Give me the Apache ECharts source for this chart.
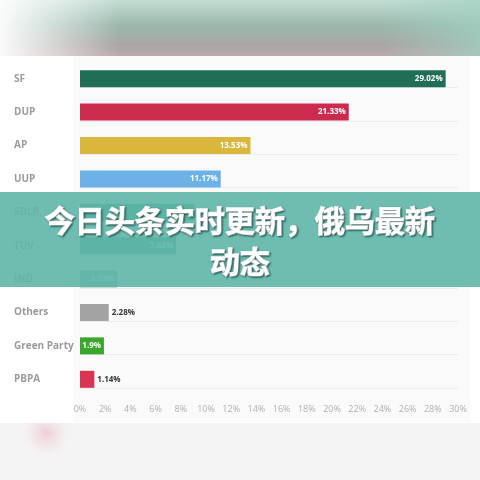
<!DOCTYPE html>
<html>
<head>
<meta charset="utf-8">
<script src="https://cdn.jsdelivr.net/npm/echarts@6/dist/echarts.min.js"></script>
<style>
html,body{margin:0;padding:0;background:#fff;}
#c{width:480px;height:480px;}
</style>
</head>
<body>
<div id="c"></div>
<script>
var categories = ['SF','DUP','AP','UUP','SDLP','TUV','IND','Others','Green Party','PBPA'];
var values = [29.02, 21.33, 13.53, 11.17, 9.08, 7.63, 2.95, 2.28, 1.9, 1.14];
var barColors = ['#1f6e55','#cc2b50','#d8b73c','#6db2e6','#2f9a6e','#3f9f97','#8cb9b3','#a3a3a3','#3aa62b','#d83553'];
var outsideLabel = ['Others','PBPA'];
var xTicks = [0, 30, 2];
var bannerLines = ['今日头条实时更新，俄乌最新', '动态'];

var chart = echarts.init(document.getElementById('c'), null, {renderer:'canvas'});

var data = values.map(function(v, i){
  var outside = outsideLabel.indexOf(categories[i]) >= 0;
  return {
    value: v,
    itemStyle: {color: barColors[i]},
    label: outside ? {position:'right', color:'#333', distance:3} : {position:'insideRight', color:'#fff', distance:3}
  };
});

var bannerText = function(t, y){
  return {type:'text', z:201, silent:true, x:240, y:y,
    style:{text: t, align:'center', verticalAlign:'middle', fill:'#ffffff',
      stroke:'#ffffff', lineWidth:1.3,
      font:'bold 30px "Noto Sans CJK SC"', textShadowColor:'rgba(0,40,40,0.6)', textShadowBlur:2, textShadowOffsetX:1, textShadowOffsetY:1}};
};

chart.setOption({
  backgroundColor: '#ffffff',
  animation: false,
  grid: [
    {left: 80, right: 22, top: 62, height: 334, containLabel: false},
    {left: 80, right: 22, top: 54, height: 334, containLabel: false}
  ],
  xAxis: [
    {
      gridIndex: 0, type: 'value', min: xTicks[0], max: xTicks[1], interval: xTicks[2],
      axisLine: {show:false}, axisTick: {show:false}, splitLine: {show:false},
      axisLabel: {formatter: '{value}%', color: '#b0b0b0', fontSize: 9, fontFamily: 'Open Sans', margin: 9}
    },
    {
      gridIndex: 1, type: 'value', min: 0, max: 30, show: false
    }
  ],
  yAxis: [
    {
      gridIndex: 0, type: 'category', data: categories, inverse: true,
      axisLine: {show:false}, axisTick: {show:false}, splitLine: {show:false},
      axisLabel: {align: 'left', margin: 66, color: '#9a9a9a', fontSize: 10, fontWeight: 'bold', fontFamily: 'Open Sans'}
    },
    {
      gridIndex: 1, type: 'category', data: categories, inverse: true,
      axisLine: {show:false}, axisTick: {show:false}, axisLabel: {show:false},
      splitLine: {show: true, lineStyle: {color: '#ececec', width: 1}}
    }
  ],
  series: [{
    type: 'bar', xAxisIndex: 0, yAxisIndex: 0,
    data: data, barWidth: 17, z: 3,
    label: {show: true, formatter: '{c}%', fontSize: 8, fontWeight: 'bold', fontFamily: 'Open Sans'}
  }],
  graphic: [
    {type:'rect', z:-10, silent:true, shape:{x:73,y:56,width:397,height:366}, style:{fill:'#fafafa'}},
    {type:'rect', z:100, silent:true, shape:{x:0,y:0,width:480,height:56},
      style:{fill: new echarts.graphic.LinearGradient(0,0,0,1,[
        {offset:0,color:'#c4ddd4'},{offset:0.45,color:'#9cb8ad'},{offset:0.8,color:'#a9a6a4'},{offset:1,color:'#bba9ab'}])}},
    {type:'rect', z:101, silent:true, shape:{x:0,y:0,width:120,height:56},
      style:{fill: new echarts.graphic.LinearGradient(0,0,1,0,[
        {offset:0,color:'rgba(255,255,255,0.95)'},{offset:1,color:'rgba(255,255,255,0)'}])}},
    {type:'rect', z:101, silent:true, shape:{x:380,y:0,width:100,height:56},
      style:{fill: new echarts.graphic.LinearGradient(0,0,1,0,[
        {offset:0,color:'rgba(160,210,195,0)'},{offset:1,color:'rgba(160,210,195,0.7)'}])}},
    {type:'rect', z:100, silent:true, shape:{x:0,y:423,width:480,height:57}, style:{fill:'#f5f4f4'}},
    {type:'rect', z:101, silent:true, shape:{x:0,y:423,width:110,height:50},
      style:{fill: new echarts.graphic.RadialGradient(0.42,0.2,0.55,[
        {offset:0,color:'rgba(236,200,208,0.85)'},{offset:0.5,color:'rgba(240,220,224,0.5)'},{offset:1,color:'rgba(245,244,244,0)'}])}},
    {type:'rect', z:200, silent:true, shape:{x:0,y:192,width:480,height:95}, style:{fill:'rgba(95,182,168,0.9)'}},
    bannerText(bannerLines[0], 221),
    bannerText(bannerLines[1], 262)
  ]
});
</script>
</body>
</html>
